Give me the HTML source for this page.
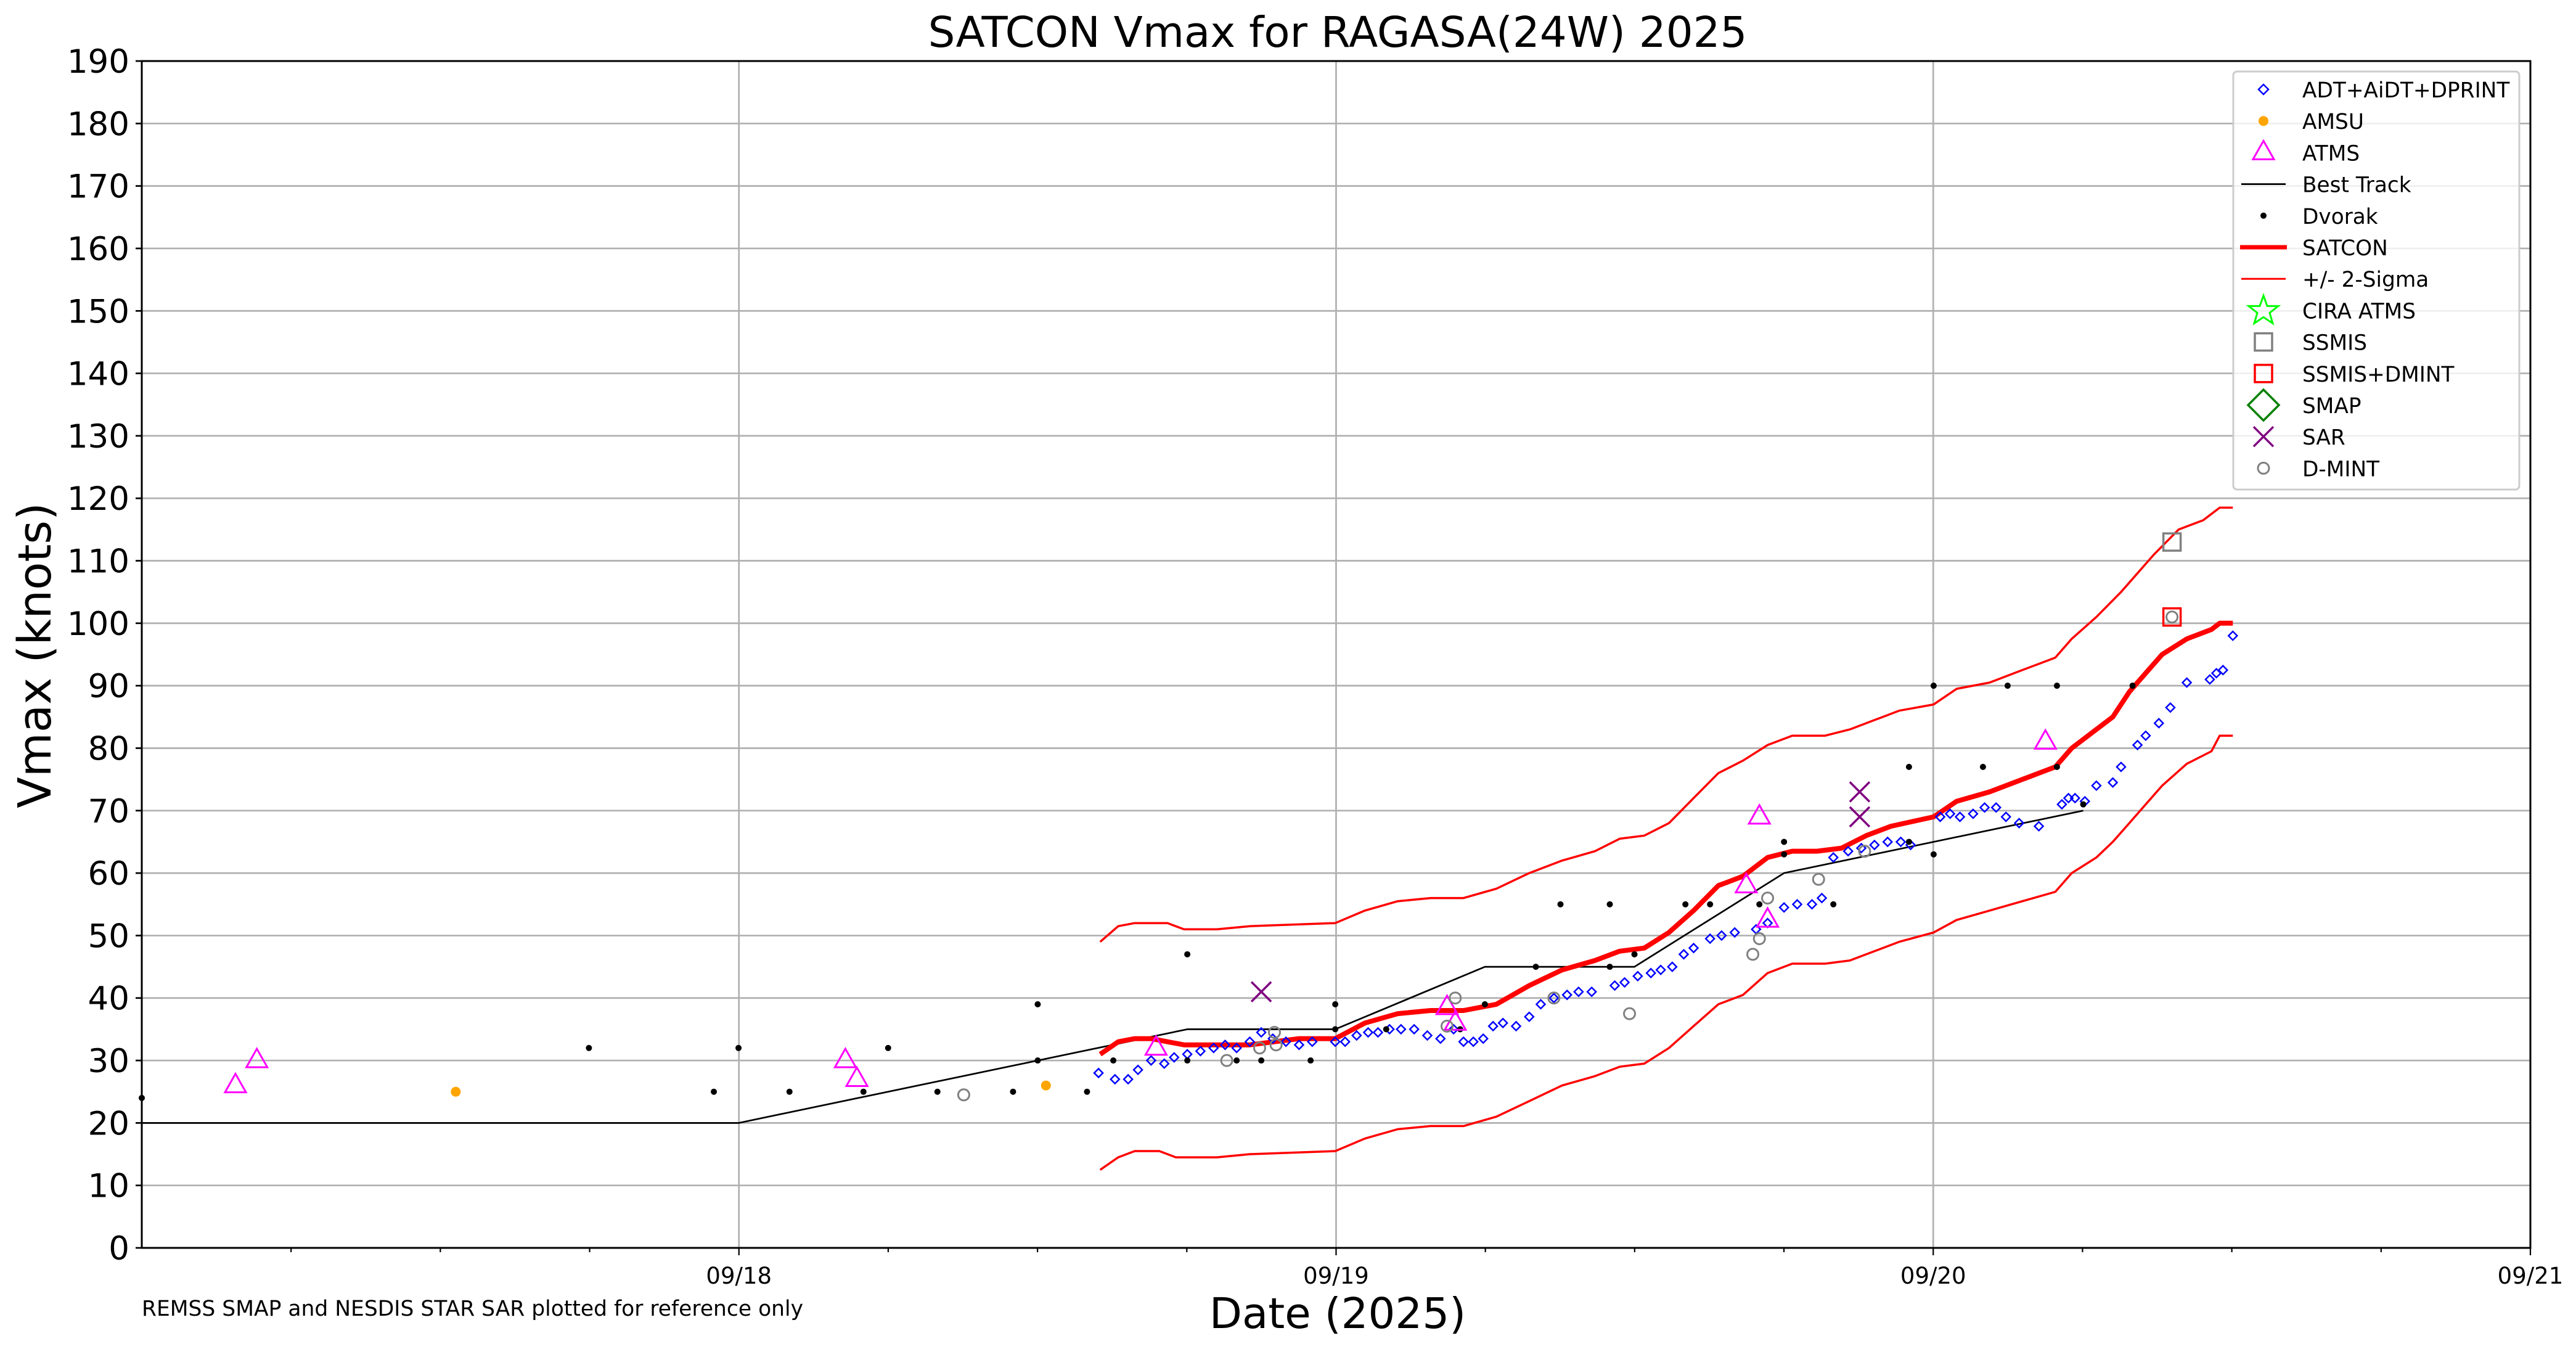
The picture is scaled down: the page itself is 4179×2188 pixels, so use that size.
<!DOCTYPE html>
<html><head><meta charset="utf-8"><style>
html,body{margin:0;padding:0;background:#fff;}
svg{display:block;font-family:"DejaVu Sans","Liberation Sans",sans-serif;}
</style></head><body>
<svg id="s" width="4179" height="2188" xmlns="http://www.w3.org/2000/svg"></svg>
<script>
const s=document.getElementById('s');
const L=230,R=4105,T=99,B=2024;
const X=xd=>L+(xd-86)*(R-L)/1453;
const Y=k=>B-k*(B-T)/190;
let h='';
for(let k=10;k<190;k+=10){h+=`<line x1="${L}" x2="${R}" y1="${Y(k)}" y2="${Y(k)}" stroke="#b0b0b0" stroke-width="2.7"/>`;}
for(let d=1;d<4;d++){const x=L+d*(R-L)/4;h+=`<line x1="${x}" x2="${x}" y1="${T}" y2="${B}" stroke="#b0b0b0" stroke-width="2.7"/>`;}
for(let k=0;k<=190;k+=10){h+=`<line x1="${L-10}" x2="${L}" y1="${Y(k)}" y2="${Y(k)}" stroke="#000" stroke-width="2.7"/><text x="${L-20}" y="${Y(k)+19}" font-size="53" text-anchor="end">${k}</text>`;}
for(let q=1;q<=16;q++){const x=L+q*(R-L)/16;const major=q%4==0;h+=`<line x1="${x}" x2="${x}" y1="${B}" y2="${B+(major?12:7)}" stroke="#000" stroke-width="2.2"/>`;}
['09/18','09/19','09/20','09/21'].forEach((t,i)=>{h+=`<text x="${L+(i+1)*(R-L)/4}" y="${B+58}" font-size="37" text-anchor="middle">${t}</text>`;});
const path=(pts,c,w)=>{let d='';for(let i=0;i<pts.length;i+=2)d+=(i?'L':'M')+X(pts[i]).toFixed(1)+','+Y(pts[i+1]).toFixed(1);return `<path d="${d}" fill="none" stroke="${c}" stroke-width="${w}" stroke-linejoin="round"/>`;};
h+=path([86,20,449,20,722,35,812,35,903,45,994,45,1085,60,1176,65,1267,70],'#000',2.7);
h+=path([669,31,680,33,690,33.5,700,33.5,710,33,720,32.5,760,32.5,790,33.5,812,33.5,830,36,850,37.5,870,38,890,38,910,39,930,42,950,44.5,970,46,985,47.5,1000,48,1015,50.5,1030,54,1045,58,1060,59.5,1075,62.5,1090,63.5,1105,63.5,1120,64,1135,66,1150,67.5,1176,69,1190,71.5,1210,73,1230,75,1250,77,1260,80,1275,83,1285,85,1295,89,1305,92,1315,95,1330,97.5,1345,99,1350,100,1358,100],'#ff0000',8);
h+=path([669,49,680,51.5,690,52,710,52,720,51,740,51,760,51.5,812,52,830,54,850,55.5,870,56,890,56,910,57.5,930,60,950,62,970,63.5,985,65.5,1000,66,1015,68,1030,72,1045,76,1060,78,1075,80.5,1090,82,1110,82,1125,83,1140,84.5,1155,86,1176,87,1190,89.5,1210,90.5,1230,92.5,1250,94.5,1260,97.5,1275,101,1290,105,1300,108,1310,111,1325,115,1340,116.5,1350,118.5,1358,118.5],'#ff0000',3.5);
h+=path([669,12.5,680,14.5,690,15.5,705,15.5,715,14.5,740,14.5,760,15,812,15.5,830,17.5,850,19,870,19.5,890,19.5,910,21,930,23.5,950,26,970,27.5,985,29,1000,29.5,1015,32,1030,35.5,1045,39,1060,40.5,1075,44,1090,45.5,1110,45.5,1125,46,1140,47.5,1155,49,1176,50.5,1190,52.5,1210,54,1230,55.5,1250,57,1260,60,1275,62.5,1285,65,1295,68,1305,71,1315,74,1330,77.5,1345,79.5,1350,82,1358,82],'#ff0000',3.5);
const dia=(x,y,r,c,w)=>`<path d="M${x-r},${y}L${x},${y-r}L${x+r},${y}L${x},${y+r}Z" fill="none" stroke="${c}" stroke-width="${w}"/>`;
const tri=(x,y)=>`<path d="M${x},${y-19}L${x+17},${y+11}L${x-17},${y+11}Z" fill="none" stroke="#ff00ff" stroke-width="3"/>`;
const xx=(x,y,c)=>`<path d="M${x-16},${y-16}L${x+16},${y+16}M${x+16},${y-16}L${x-16},${y+16}" stroke="${c}" stroke-width="3.5"/>`;
const sq=(x,y,c)=>`<rect x="${x-14}" y="${y-14}" width="28" height="28" fill="none" stroke="${c}" stroke-width="3.5"/>`;
const adt=[668,28,678,27,686,27,692,28.5,700,30,708,29.5,714,30.5,722,31,730,31.5,738,32,745,32.5,752,32,760,33,767,34.5,774,33.5,782,33,790,32.5,798,33,812,33,818,33,825,34,832,34.5,838,34.5,845,35,852,35,860,35,868,34,876,33.5,884,35,890,33,896,33,902,33.5,908,35.5,914,36,922,35.5,930,37,937,39,945,40,953,40.5,960,41,968,41,982,42,988,42.5,996,43.5,1004,44,1010,44.5,1017,45,1024,47,1030,48,1040,49.5,1047,50,1055,50.5,1068,51,1075,52,1085,54.5,1093,55,1102,55,1108,56,1115,62.5,1124,63.5,1132,64,1140,64.5,1148,65,1156,65,1162,64.5,1180,69,1186,69.5,1192,69,1200,69.5,1207,70.5,1214,70.5,1220,69,1228,68,1240,67.5,1254,71,1258,72,1262,72,1268,71.5,1275,74,1285,74.5,1290,77,1300,80.5,1305,82,1313,84,1320,86.5,1330,90.5,1344,91,1348,92,1352,92.5,1358,98];
for(let i=0;i<adt.length;i+=2)h+=dia(X(adt[i]),Y(adt[i+1]),7,'#0000ff',2.5);
const dv=[86,24,358,32,434,25,449,32,480,25,525,25,540,32,570,25,616,25,631,30,631,39,661,25,677,30,722,30,722,47,752,30,767,30,797,30,812,35,812,39,843,35,888,35,903,39,934,45,949,55,979,55,979,45,994,47,1025,55,1040,55,1070,55,1085,65,1085,63,1115,55,1161,77,1161,65,1176,90,1176,63,1206,77,1221,90,1251,90,1251,77,1267,71,1297,90];
for(let i=0;i<dv.length;i+=2)h+=`<circle cx="${X(dv[i])}" cy="${Y(dv[i+1])}" r="5" fill="#000"/>`;
[277,25,636,26].forEach((v,i,a)=>{if(i%2==0)h+=`<circle cx="${X(v)}" cy="${Y(a[i+1])}" r="8" fill="#ffa500"/>`;});
const at=[143,26,156,30,514,30,521,27,703,32,880,38.5,885,36,1062,58,1070,69,1075,52.5,1244,81];
for(let i=0;i<at.length;i+=2)h+=tri(X(at[i]),Y(at[i+1]));
const dm=[586,24.5,746,30,766,32,775,34.5,776,32.5,880,35.5,885,40,945,40,991,37.5,1066,47,1070,49.5,1075,56,1106,59,1134,63.5,1321,101];
for(let i=0;i<dm.length;i+=2)h+=`<circle cx="${X(dm[i])}" cy="${Y(dm[i+1])}" r="9" fill="none" stroke="#808080" stroke-width="3"/>`;
[767,41,1131,73,1131,69].forEach((v,i,a)=>{if(i%2==0)h+=xx(X(v),Y(a[i+1]),'#800080');});
h+=sq(X(1321),Y(113),'#808080');
h+=sq(X(1321),Y(101),'#ff0000');
h+=`<rect x="${L}" y="${T}" width="${R-L}" height="${B-T}" fill="none" stroke="#000" stroke-width="3"/>`;
const lx=3623,ly=116;
h+=`<rect x="${lx}" y="${ly}" width="464" height="678" rx="6" fill="#fff" fill-opacity="0.8" stroke="#cccccc" stroke-width="3"/>`;
const names=['ADT+AiDT+DPRINT','AMSU','ATMS','Best Track','Dvorak','SATCON','+/- 2-Sigma','CIRA ATMS','SSMIS','SSMIS+DMINT','SMAP','SAR','D-MINT'];
names.forEach((n,i)=>{const y=145+i*51.2,mx=3672;let m='';
 if(i==0)m=dia(mx,y,8,'#0000ff',2.5);
 if(i==1)m=`<circle cx="${mx}" cy="${y}" r="8" fill="#ffa500"/>`;
 if(i==2)m=tri(mx,y);
 if(i==3)m=`<line x1="${mx-36}" x2="${mx+36}" y1="${y}" y2="${y}" stroke="#000" stroke-width="2.7"/>`;
 if(i==4)m=`<circle cx="${mx}" cy="${y}" r="5" fill="#000"/>`;
 if(i==5)m=`<line x1="${mx-38}" x2="${mx+38}" y1="${y}" y2="${y}" stroke="#f00" stroke-width="7"/>`;
 if(i==6)m=`<line x1="${mx-36}" x2="${mx+36}" y1="${y}" y2="${y}" stroke="#f00" stroke-width="3"/>`;
 if(i==7)m=`<path d="M${mx},${y-24}L${mx+6},${y-7}L${mx+24},${y-7}L${mx+10},${y+4}L${mx+15},${y+21}L${mx},${y+11}L${mx-15},${y+21}L${mx-10},${y+4}L${mx-24},${y-7}L${mx-6},${y-7}Z" fill="none" stroke="#00ff00" stroke-width="3"/>`;
 if(i==8)m=sq(mx,y,'#808080');
 if(i==9)m=sq(mx,y,'#ff0000');
 if(i==10)m=dia(mx,y,25,'#008000',3.5);
 if(i==11)m=xx(mx,y,'#800080');
 if(i==12)m=`<circle cx="${mx}" cy="${y}" r="9" fill="none" stroke="#808080" stroke-width="3"/>`;
 h+=m+`<text x="3735" y="${y+13}" font-size="34.3">${n}</text>`;});
h+=`<text x="2170" y="76" font-size="69" text-anchor="middle">SATCON Vmax for RAGASA(24W) 2025</text>`;
h+=`<text x="2170" y="2154" font-size="69" text-anchor="middle">Date (2025)</text>`;
h+=`<text transform="translate(82,1063) rotate(-90)" font-size="74" text-anchor="middle">Vmax (knots)</text>`;
h+=`<text x="230" y="2134" font-size="34.5">REMSS SMAP and NESDIS STAR SAR plotted for reference only</text>`;
s.innerHTML=h;
</script>
</body></html>
